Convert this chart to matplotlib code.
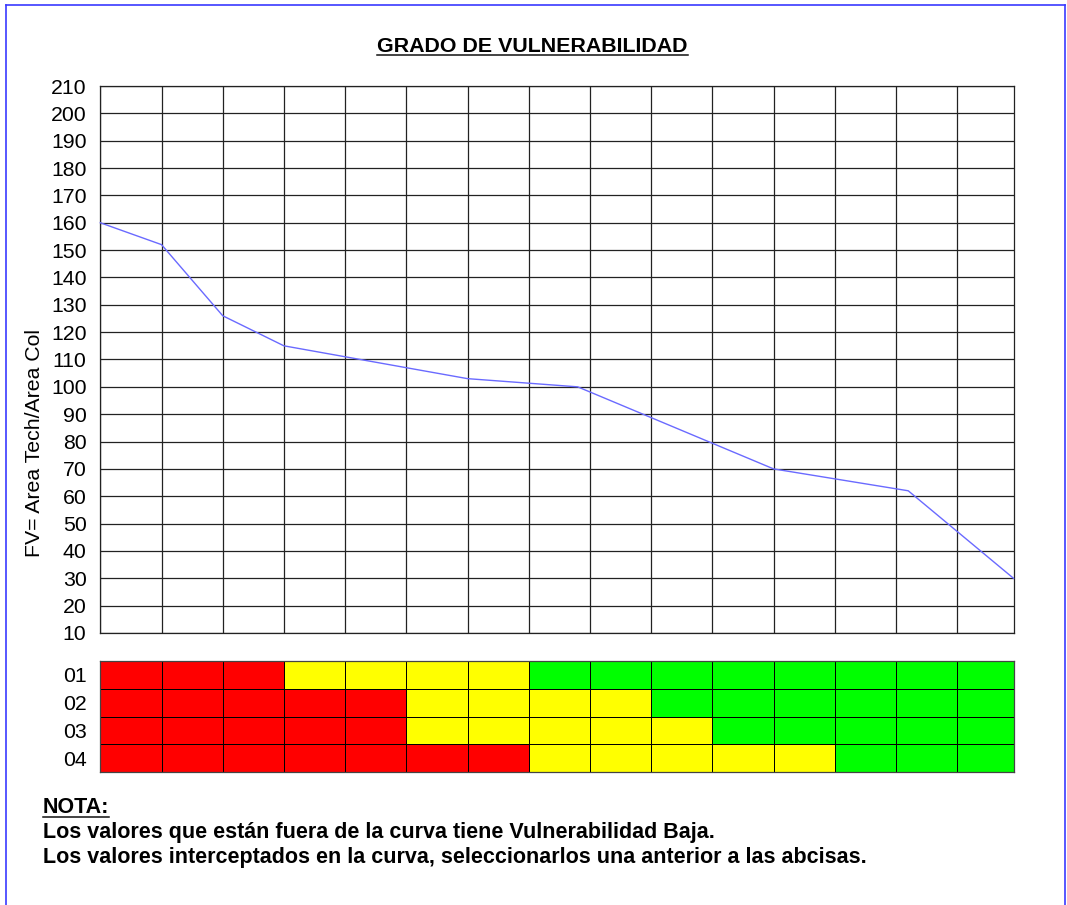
import matplotlib
matplotlib.use("Agg")
import matplotlib.pyplot as plt
from matplotlib.colors import ListedColormap
from matplotlib.lines import Line2D
import numpy as np

plt.rcParams['font.family'] = ['Liberation Sans', 'DejaVu Sans']

# ---- data ----
title = "GRADO DE VULNERABILIDAD"
ylabel = "FV= Area Tech/Area Col"
curve_x = [0, 1, 2, 3, 6, 7.8, 11, 13.2, 14.92]
curve_y = [160, 152, 126, 115, 103, 100, 70, 62, 30]
yticks = list(range(10, 211, 10))
col_edges = [0, 1, 2, 3, 4, 5, 6, 7, 8, 9, 10, 11, 12, 13, 14, 14.92]
row_labels = ["01", "02", "03", "04"]
# 0 = red (alta), 1 = yellow (media), 2 = green (baja)
row_01 = [0, 0, 0, 1, 1, 1, 1, 2, 2, 2, 2, 2, 2, 2, 2]
row_02 = [0, 0, 0, 0, 0, 1, 1, 1, 1, 2, 2, 2, 2, 2, 2]
row_03 = [0, 0, 0, 0, 0, 1, 1, 1, 1, 1, 2, 2, 2, 2, 2]
row_04 = [0, 0, 0, 0, 0, 0, 0, 1, 1, 1, 1, 1, 2, 2, 2]
level_colors = ["#ff0000", "#ffff00", "#00ff00"]
nota_title = "NOTA:"
nota_lines = [
    "Los valores que están fuera de la curva tiene Vulnerabilidad Baja.",
    "Los valores interceptados en la curva, seleccionarlos una anterior a las abcisas.",
]

W, H = 1067, 905
fig = plt.figure(figsize=(W / 100, H / 100), dpi=100)
fig.patch.set_facecolor("white")

def fx(px):
    return px / W

def fy(py):
    return 1 - py / H

# ---- main curve axes ----
L, R = 100.3, 1013.5
ax = fig.add_axes([fx(L), fy(633), fx(R) - fx(L), fy(86) - fy(633)])
ax.set_xlim(col_edges[0], col_edges[-1])
ax.set_ylim(10, 210)
ax.set_xticks(col_edges[:-1])
ax.set_yticks(yticks)
ax.set_yticklabels([str(v) for v in yticks], fontsize=15.3)
ax.tick_params(axis="x", length=0, labelbottom=False)
ax.tick_params(axis="y", length=0, pad=10)
ax.grid(True, color="#222222", linewidth=0.9)
ax.set_axisbelow(True)
for s in ax.spines.values():
    s.set_color("#222222")
    s.set_linewidth(0.9)
ax.plot(curve_x, curve_y, color="#6a6aff", linewidth=1.0, clip_on=False, zorder=3)

fig.text(fx(35), fy(443), ylabel, rotation=90, ha="center", va="center", fontsize=15.3)

# ---- colour table axes ----
ax2 = fig.add_axes([fx(L), fy(772), fx(R) - fx(L), fy(661) - fy(772)])
grid = np.array([row_01, row_02, row_03, row_04])
ax2.pcolormesh(col_edges, np.arange(len(row_labels) + 1), grid,
               cmap=ListedColormap(level_colors), vmin=-0.5, vmax=2.5,
               edgecolors="#000000", linewidth=0.7)
ax2.set_xlim(col_edges[0], col_edges[-1])
ax2.set_ylim(len(row_labels), 0)
ax2.set_yticks(np.arange(len(row_labels)) + 0.5)
ax2.set_yticklabels(row_labels, fontsize=15.3)
ax2.set_xticks([])
ax2.tick_params(axis="y", length=0, pad=10)
for s in ax2.spines.values():
    s.set_color("#444444")
    s.set_linewidth(0.9)

# ---- texts ----
t_title = fig.text(fx(532.5), fy(52), title, ha="center", va="baseline",
                   fontsize=15.4, fontweight="bold")
t_nota = fig.text(fx(43), fy(813), nota_title, ha="left", va="baseline",
                  fontsize=15.5, fontweight="bold")
fig.text(fx(43), fy(838), nota_lines[0], ha="left", va="baseline",
         fontsize=15.5, fontweight="bold")
fig.text(fx(43), fy(863), nota_lines[1], ha="left", va="baseline",
         fontsize=15.5, fontweight="bold")

# underlines
fig.canvas.draw()
rend = fig.canvas.get_renderer()
for t, uy in [(t_title, 55), (t_nota, 817)]:
    bb = t.get_window_extent(rend)
    fig.add_artist(Line2D([bb.x0 / W, bb.x1 / W], [fy(uy), fy(uy)],
                          transform=fig.transFigure, color="#111111", linewidth=1.1))

# page border (blue)
bc = "#3a3aff"
fig.add_artist(Line2D([fx(6), fx(6)], [fy(5), 0], transform=fig.transFigure, color=bc, linewidth=1.2))
fig.add_artist(Line2D([fx(6), fx(1065)], [fy(5), fy(5)], transform=fig.transFigure, color=bc, linewidth=1.2))
fig.add_artist(Line2D([fx(1065), fx(1065)], [fy(5), 0], transform=fig.transFigure, color=bc, linewidth=1.2))

fig.savefig("out.png", dpi=100, facecolor="white")
